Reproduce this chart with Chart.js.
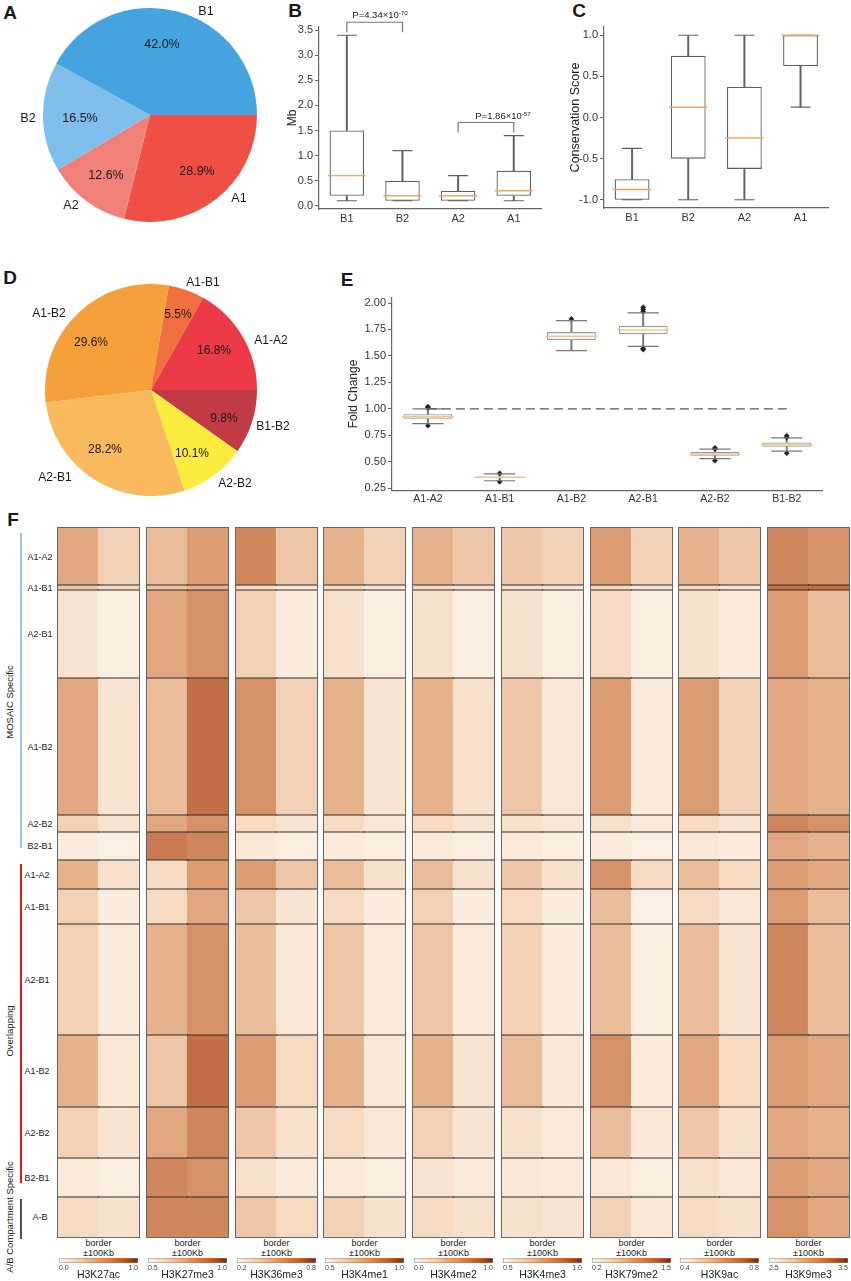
<!DOCTYPE html>
<html>
<head>
<meta charset="utf-8">
<script src="https://cdn.jsdelivr.net/npm/chart.js@4.4.1/dist/chart.umd.min.js"></script>
<style>
	body { margin: 0; background: #fff; }
	#page { position: relative; width: 851px; height: 1281px; overflow: hidden; font-family: "Liberation Sans", Arial, sans-serif; color: #1a1a1a; }
	#page canvas { position: absolute; }
	.t { position: absolute; white-space: nowrap; line-height: 1; transform: translate(-50%, -50%); }
	.r { transform: translate(-50%, -50%) rotate(-90deg); }
	.t sup { font-size: 65%; vertical-align: 0.55em; }
	.frame { position: absolute; border: 1px solid #666; }
	.vline { position: absolute; }
</style>
</head>
<body>
<div id="page"></div>
<script>

// ---- A: compartment shares ----
var aLabels = ['B1', 'B2', 'A2', 'A1'];
var aValues = [42.0, 16.5, 12.6, 28.9];

// ---- B: compartment length (Mb) ----
var bCats = ['B1', 'B2', 'A2', 'A1'];
var bLow = [0.1, 0.1, 0.1, 0.1];
var bQ1 = [0.2, 0.1, 0.1, 0.2];
var bMed = [0.6, 0.2, 0.2, 0.3];
var bQ3 = [1.5, 0.5, 0.3, 0.7];
var bHigh = [3.4, 1.1, 0.6, 1.4];
var bTicks = [0, 0.5, 1.0, 1.5, 2.0, 2.5, 3.0, 3.5];
var bPairs = [['B1', 'B2'], ['A2', 'A1']];
var bPairTop = [3.66, 1.66];
var bPairP = ['4.34', '1.86'];
var bPairExp = ['-70', '-57'];

// ---- C: conservation score ----
var cCats = ['B1', 'B2', 'A2', 'A1'];
var cLow = [-1.0, -1.0, -1.0, 0.125];
var cQ1 = [-1.0, -0.5, -0.625, 0.625];
var cMed = [-0.875, 0.125, -0.25, 1.0];
var cQ3 = [-0.75, 0.75, 0.375, 1.0];
var cHigh = [-0.375, 1.0, 1.0, 1.0];
var cTicks = [-1.0, -0.5, 0.0, 0.5, 1.0];

// ---- D: transition types ----
var dLabels = ['A1-A2', 'A1-B1', 'A1-B2', 'A2-B1', 'A2-B2', 'B1-B2'];
var dValues = [16.8, 5.5, 29.6, 28.2, 10.1, 9.8];

// ---- E: fold change ----
var eCats = ['A1-A2', 'A1-B1', 'A1-B2', 'A2-B1', 'A2-B2', 'B1-B2'];
var eLow = [0.86, 0.32, 1.55, 1.59, 0.53, 0.60];
var eQ1 = [0.905, 0.345, 1.65, 1.705, 0.557, 0.642];
var eMed = [0.925, 0.352, 1.686, 1.745, 0.572, 0.66];
var eQ3 = [0.948, 0.36, 1.725, 1.785, 0.591, 0.682];
var eHigh = [1.0, 0.385, 1.834, 1.906, 0.619, 0.725];
var eOut = [[0.84, 1.01, 1.02], [0.31, 0.39], [1.85], [1.56, 1.57, 1.92, 1.94, 1.96], [0.51, 0.62, 0.63], [0.58, 0.73, 0.745]];
var eTicks = [0.25, 0.5, 0.75, 1.0, 1.25, 1.5, 1.75, 2.0];

// ---- F: histone marks around borders ----
var sections = ['MOSAIC Specific', 'Overlapping', 'A/B Compartment Specific'];
var groupNames = ['A1-A2', 'A1-B1', 'A2-B1', 'A1-B2', 'A2-B2', 'B2-B1', 'A1-A2', 'A1-B1', 'A2-B1', 'A1-B2', 'A2-B2', 'B2-B1', 'A-B'];
var groupSection = [0, 0, 0, 0, 0, 0, 1, 1, 1, 1, 1, 1, 2];
var groupRows = [57, 5, 88, 137, 17, 28, 29, 35, 111, 72, 51, 39, 40];
var trackNames = ['H3K27ac', 'H3K27me3', 'H3K36me3', 'H3K4me1', 'H3K4me2', 'H3K4me3', 'H3K79me2', 'H3K9ac', 'H3K9me3'];
var cbarMin = [0.0, 0.5, 0.2, 0.5, 0.0, 0.5, 0.2, 0.4, 2.5];
var cbarMax = [1.0, 1.0, 0.8, 1.0, 1.0, 1.0, 1.5, 0.8, 3.5];
// mean signal per group (0..1 of the colour range), upstream half of the window
var heatLeft = [
	[0.45, 0.30, 0.12, 0.45, 0.25, 0.06, 0.40, 0.25, 0.25, 0.40, 0.25, 0.08, 0.20],
	[0.35, 0.30, 0.45, 0.35, 0.45, 0.65, 0.20, 0.20, 0.40, 0.30, 0.45, 0.60, 0.60],
	[0.60, 0.20, 0.25, 0.55, 0.20, 0.10, 0.50, 0.30, 0.35, 0.50, 0.30, 0.15, 0.30],
	[0.40, 0.20, 0.15, 0.40, 0.20, 0.07, 0.35, 0.20, 0.30, 0.40, 0.20, 0.08, 0.25],
	[0.40, 0.20, 0.15, 0.40, 0.20, 0.08, 0.35, 0.25, 0.30, 0.40, 0.25, 0.12, 0.20],
	[0.30, 0.15, 0.15, 0.30, 0.15, 0.08, 0.30, 0.20, 0.25, 0.35, 0.15, 0.10, 0.15],
	[0.50, 0.20, 0.20, 0.50, 0.15, 0.06, 0.55, 0.35, 0.35, 0.55, 0.35, 0.10, 0.25],
	[0.40, 0.20, 0.15, 0.50, 0.20, 0.10, 0.35, 0.20, 0.35, 0.45, 0.30, 0.15, 0.20],
	[0.60, 0.70, 0.50, 0.45, 0.60, 0.45, 0.50, 0.50, 0.60, 0.50, 0.45, 0.50, 0.55]
];
// downstream half of the window
var heatRight = [
	[0.25, 0.20, 0.04, 0.12, 0.12, 0.03, 0.15, 0.06, 0.08, 0.10, 0.12, 0.05, 0.15],
	[0.50, 0.40, 0.55, 0.70, 0.55, 0.60, 0.50, 0.45, 0.55, 0.70, 0.60, 0.55, 0.60],
	[0.30, 0.10, 0.06, 0.25, 0.12, 0.05, 0.30, 0.12, 0.10, 0.20, 0.15, 0.08, 0.20],
	[0.25, 0.10, 0.05, 0.12, 0.10, 0.04, 0.15, 0.06, 0.08, 0.10, 0.10, 0.05, 0.15],
	[0.30, 0.15, 0.04, 0.15, 0.12, 0.04, 0.15, 0.06, 0.08, 0.12, 0.12, 0.08, 0.15],
	[0.25, 0.10, 0.05, 0.10, 0.10, 0.04, 0.15, 0.06, 0.06, 0.10, 0.08, 0.08, 0.12],
	[0.25, 0.10, 0.04, 0.08, 0.08, 0.03, 0.20, 0.03, 0.04, 0.08, 0.10, 0.05, 0.10],
	[0.30, 0.12, 0.06, 0.25, 0.12, 0.06, 0.20, 0.10, 0.12, 0.20, 0.15, 0.10, 0.15],
	[0.55, 0.70, 0.35, 0.40, 0.55, 0.40, 0.45, 0.35, 0.35, 0.45, 0.40, 0.45, 0.45]
];

// ---- styles ----
var aColors = ['#45a4e0', '#80beeb', '#f08078', '#ee5046'];
var dColors = ['#ec3a46', '#f07040', '#f6a03c', '#f9b95c', '#fbec3e', '#c03b43'];
var heatStops = [[0, [253, 244, 234]], [0.2, [246, 218, 194]], [0.4, [230, 178, 140]], [0.6, [208, 134, 92]], [0.8, [176, 88, 50]], [1, [128, 46, 12]]];
var cbarStops = [[0, '#fff5eb'], [0.3, '#fdc590'], [0.6, '#f57f2b'], [0.82, '#d24f0a'], [1, '#7a2604']];
var colX = [58, 147, 236, 324, 413, 502, 591, 679, 768];
var colW = 81, heatTop = 528;
var sectionColors = ['#9cc3ec', '#e2141c', '#505050'];

Chart.defaults.font.family = '"Liberation Sans", Arial, sans-serif';
Chart.defaults.animation = false;
Chart.defaults.events = [];
Chart.defaults.plugins.legend.display = false;
Chart.defaults.plugins.tooltip.enabled = false;

var page = document.getElementById('page');

function addText(html, x, y, size, opt) {
	opt = opt || {};
	var d = document.createElement('div');
	d.className = 't' + (opt.rot ? ' r' : '');
	d.style.left = x + 'px';
	d.style.top = y + 'px';
	d.style.fontSize = size + 'px';
	if (opt.bold) d.style.fontWeight = 'bold';
	if (opt.color) d.style.color = opt.color;
	d.innerHTML = html;
	page.appendChild(d);
	return d;
}

function addCanvas(x, y, w, h) {
	var c = document.createElement('canvas');
	c.width = w;
	c.height = h;
	c.style.left = x + 'px';
	c.style.top = y + 'px';
	page.appendChild(c);
	return c;
}

function addBox(cls, x, y, w, h, bg) {
	var d = document.createElement('div');
	d.className = cls;
	d.style.left = x + 'px';
	d.style.top = y + 'px';
	d.style.width = w + 'px';
	d.style.height = h + 'px';
	if (bg) d.style.background = bg;
	page.appendChild(d);
	return d;
}

function heatColor(v) {
	v = Math.max(0, Math.min(1, v));
	for (var i = 1; i < heatStops.length; i++) {
		if (v <= heatStops[i][0]) {
			var a = heatStops[i - 1], b = heatStops[i];
			var f = (v - a[0]) / (b[0] - a[0]);
			var c = a[1].map(function (x, k) { return Math.round(x + (b[1][k] - x) * f); });
			return 'rgb(' + c.join(',') + ')';
		}
	}
	return 'rgb(' + heatStops[heatStops.length - 1][1].join(',') + ')';
}

// panel letters
addText('A', 10, 12, 19, { bold: true });
addText('B', 295, 10, 19, { bold: true });
addText('C', 579, 10, 19, { bold: true });
addText('D', 10, 277, 19, { bold: true });
addText('E', 347, 279, 19, { bold: true });
addText('F', 13, 519, 19, { bold: true });

// pie helper: matplotlib draws counter-clockwise from 3 o'clock,
// so the order is reversed and drawn clockwise from 3 o'clock
function pieChart(cv, labels, values, colors) {
	return new Chart(cv, {
		type: 'pie',
		data: {
			labels: labels.slice().reverse(),
			datasets: [{
				data: values.slice().reverse(),
				backgroundColor: colors.slice().reverse(),
				borderWidth: 0
			}]
		},
		options: {
			responsive: false,
			rotation: 90,
			layout: { padding: 0 }
		}
	});
}

// pie A
pieChart(addCanvas(43, 8, 214, 214), aLabels, aValues, aColors);
var aLabelPos = [[206, 11], [28, 118], [71, 205], [239, 198]];
var aPctPos = [[162, 44], [80, 118], [106, 175], [197, 171]];
aLabels.forEach(function (l, i) {
	addText(l, aLabelPos[i][0], aLabelPos[i][1], 12.5);
	addText(aValues[i].toFixed(1) + '%', aPctPos[i][0], aPctPos[i][1], 12.5);
});

// pie D
pieChart(addCanvas(45, 284, 212, 212), dLabels, dValues, dColors);
var dLabelPos = [[271, 340], [203, 282], [49, 313], [55, 477], [235, 483], [273, 426]];
var dPctPos = [[214, 350], [178, 314], [91, 342], [105, 449], [192, 453], [224, 418]];
dLabels.forEach(function (l, i) {
	addText(l, dLabelPos[i][0], dLabelPos[i][1], 12);
	addText(dValues[i].toFixed(1) + '%', dPctPos[i][0], dPctPos[i][1], 12);
});

// box plot helper: floating bars for boxes and whiskers, line-style points for medians and caps
function boxChart(cv, o) {
	var cats = o.cats;
	function pts(arr) { return cats.map(function (c, i) { return { x: c, y: arr[i] }; }); }
	var ds = [];
	ds.push({ type: 'line', data: pts(o.med), showLine: false, pointStyle: 'line', pointRadius: o.medR, pointBorderColor: o.medColor, pointBorderWidth: 1.4, order: 0 });
	ds.push({ type: 'line', data: pts(o.low).concat(pts(o.high)), showLine: false, pointStyle: 'line', pointRadius: o.capR, pointBorderColor: o.line, pointBorderWidth: 1.2, order: 1 });
	if (o.out) {
		var op = [];
		cats.forEach(function (c, i) { o.out[i].forEach(function (v) { op.push({ x: c, y: v }); }); });
		ds.push({ type: 'line', data: op, showLine: false, pointStyle: 'rectRot', pointRadius: 2.6, pointBackgroundColor: '#222', pointBorderColor: '#222', pointBorderWidth: 0.5, order: 1 });
	}
	ds.push({ type: 'bar', data: cats.map(function (c, i) { return [o.q1[i], o.q3[i]]; }), backgroundColor: '#fff', borderColor: o.boxLine, borderWidth: 1.3, borderSkipped: false, barPercentage: o.boxPct, categoryPercentage: 1, grouped: false, order: 2 });
	ds.push({ type: 'bar', data: cats.map(function (c, i) { return [o.low[i], o.q1[i]]; }), backgroundColor: o.line, barThickness: 1.3, grouped: false, order: 3 });
	ds.push({ type: 'bar', data: cats.map(function (c, i) { return [o.q3[i], o.high[i]]; }), backgroundColor: o.line, barThickness: 1.3, grouped: false, order: 3 });
	(o.extra || []).forEach(function (d) { ds.push(d); });

	return new Chart(cv, {
		type: 'bar',
		data: { labels: cats, datasets: ds },
		options: {
			responsive: false,
			layout: { padding: { top: o.padTop, left: 0, right: 0, bottom: 0 } },
			scales: {
				x: {
					afterFit: function (s) { s.height = 22; },
					ticks: { font: { size: o.xFont }, color: '#333', padding: o.xPad },
					grid: { display: false, drawTicks: false },
					border: { color: '#666', width: 1.2 }
				},
				y: {
					min: o.min,
					max: o.max,
					afterFit: function (s) { s.width = o.yW; },
					afterBuildTicks: function (s) { s.ticks = o.ticks.map(function (v) { return { value: v }; }); },
					ticks: { callback: function (v) { return v.toFixed(o.dp); }, font: { size: 11 }, color: '#333', padding: 2 },
					grid: { drawOnChartArea: false, tickLength: 4, color: '#666' },
					border: { color: '#666', width: 1.2 },
					title: { display: true, text: o.title, font: { size: o.titleFont }, color: '#222', padding: 0 }
				}
			}
		}
	});
}

// box B with significance brackets
var bExtra = bPairs.map(function (p, i) {
	return {
		type: 'line',
		data: [{ x: p[0], y: bPairTop[i] - 0.2 }, { x: p[0], y: bPairTop[i] }, { x: p[1], y: bPairTop[i] }, { x: p[1], y: bPairTop[i] - 0.2 }],
		borderColor: '#777', borderWidth: 1.2, pointRadius: 0, clip: false, order: 0
	};
});
boxChart(addCanvas(285, 0, 277, 231), {
	cats: bCats, low: bLow, q1: bQ1, med: bMed, q3: bQ3, high: bHigh, ticks: bTicks, dp: 1,
	min: -0.065, max: 3.565, padTop: 27, yW: 34, title: 'Mb', titleFont: 12, xFont: 11, xPad: 3,
	boxPct: 0.62, medR: 19, capR: 10, medColor: '#f7a35c', line: '#606060', boxLine: '#606060',
	extra: bExtra
});
var bPPos = [[380, 15], [503, 116]];
bPairs.forEach(function (p, i) {
	addText('P=' + bPairP[i] + '×10<sup>' + bPairExp[i] + '</sup>', bPPos[i][0], bPPos[i][1], 9.5);
});

// box C
boxChart(addCanvas(568, 0, 281, 230), {
	cats: cCats, low: cLow, q1: cQ1, med: cMed, q3: cQ3, high: cHigh, ticks: cTicks, dp: 1,
	min: -1.1, max: 1.1, padTop: 27, yW: 36, title: 'Conservation Score', titleFont: 12.5, xFont: 11, xPad: 3,
	boxPct: 0.62, medR: 19, capR: 10, medColor: '#f7a35c', line: '#606060', boxLine: '#606060'
});

// box E with reference line at 1
boxChart(addCanvas(346, 270, 504, 248), {
	cats: eCats, low: eLow, q1: eQ1, med: eMed, q3: eQ3, high: eHigh, out: eOut, ticks: eTicks, dp: 2,
	min: 0.227, max: 2.053, padTop: 13, yW: 46, title: 'Fold Change', titleFont: 12, xFont: 10.5, xPad: 2,
	boxPct: 0.68, medR: 26, capR: 15.5, medColor: '#f8c68a', line: '#777', boxLine: '#999',
	extra: [{
		type: 'line',
		data: [{ x: eCats[0], y: 1 }, { x: eCats[eCats.length - 1], y: 1 }],
		borderColor: '#555', borderWidth: 1.3, borderDash: [9, 5], pointRadius: 0, order: 0
	}]
});

// heatmap F: one bar chart per mark, floating bars per group and half window,
// plus one-row bars for the group separators
var totalRows = groupRows.reduce(function (a, b) { return a + b; }, 0);

function heatChart(cv, t) {
	var start = 0;
	var ds = [];
	groupRows.forEach(function (n, g) {
		ds.push({
			data: [[start, start + n], [start, start + n]],
			backgroundColor: [heatColor(heatLeft[t][g]), heatColor(heatRight[t][g])],
			borderWidth: 0,
			barPercentage: 1.03,
			categoryPercentage: 1,
			grouped: false,
			order: 2
		});
		start += n;
		if (g < groupRows.length - 1) {
			ds.push({
				data: [[start - 0.6, start + 0.6], [start - 0.6, start + 0.6]],
				backgroundColor: '#2e2e2e',
				borderWidth: 0,
				barPercentage: 1.03,
				categoryPercentage: 1,
				grouped: false,
				order: 1
			});
		}
	});
	return new Chart(cv, {
		type: 'bar',
		data: { labels: ['upstream', 'downstream'], datasets: ds },
		options: {
			responsive: false,
			layout: { padding: 0 },
			scales: {
				x: { display: false },
				y: { display: false, reverse: true, min: 0, max: totalRows }
			}
		}
	});
}

function cbarChart(cv, t) {
	return new Chart(cv, {
		type: 'bar',
		data: {
			labels: [trackNames[t]],
			datasets: [{
				data: [[cbarMin[t], cbarMax[t]]],
				backgroundColor: function (ctx) {
					var ca = ctx.chart.chartArea;
					if (!ca) return '#fdc590';
					var g = ctx.chart.ctx.createLinearGradient(ca.left, 0, ca.right, 0);
					cbarStops.forEach(function (s) { g.addColorStop(s[0], s[1]); });
					return g;
				},
				borderColor: '#8a8a8a',
				borderWidth: 0.8,
				borderSkipped: false,
				barPercentage: 1,
				categoryPercentage: 1
			}]
		},
		options: {
			indexAxis: 'y',
			responsive: false,
			layout: { padding: { top: 1, left: 0, right: 0, bottom: 0 } },
			scales: {
				y: { display: false },
				x: {
					type: 'linear',
					min: cbarMin[t],
					max: cbarMax[t],
					afterFit: function (s) { s.height = 18; },
					afterBuildTicks: function (s) { s.ticks = [{ value: cbarMin[t] }, { value: cbarMax[t] }]; },
					ticks: { callback: function (v) { return v.toFixed(1); }, font: { size: 7 }, color: '#444', padding: 1, align: 'inner', maxRotation: 0 },
					grid: { display: false, drawTicks: false },
					border: { display: false },
					title: { display: true, text: trackNames[t], font: { size: 10.5 }, color: '#222', padding: 0 }
				}
			}
		}
	});
}

trackNames.forEach(function (name, t) {
	addBox('frame', colX[t] - 1, heatTop - 1, colW, totalRows);
	heatChart(addCanvas(colX[t], heatTop, colW, totalRows), t);
	addText('border', colX[t] + colW / 2, 1243, 9);
	addText('±100Kb', colX[t] + colW / 2, 1252.5, 9);
	cbarChart(addCanvas(colX[t], 1257, colW, 24), t);
});

// group labels and section bars on the left
var y0 = heatTop;
var secSpan = [[9999, 0], [9999, 0], [9999, 0]];
groupNames.forEach(function (g, i) {
	var s = groupSection[i];
	var lx = s === 1 ? 37 : 40;
	addText(g, lx, y0 + groupRows[i] / 2, 9);
	secSpan[s][0] = Math.min(secSpan[s][0], y0);
	secSpan[s][1] = Math.max(secSpan[s][1], y0 + groupRows[i]);
	y0 += groupRows[i];
});
var secInset = [[5, -12], [4, -14], [2, 2]];
var secLabelY = [702, 1031, 1217];
sections.forEach(function (name, s) {
	var top = secSpan[s][0] + secInset[s][0];
	var bot = secSpan[s][1] + secInset[s][1];
	addBox('vline', 20, top, s === 1 ? 2 : 1.5, bot - top, sectionColors[s]);
	addText(name, 10, secLabelY[s], 9.5, { rot: true });
});

</script>
</body>
</html>
